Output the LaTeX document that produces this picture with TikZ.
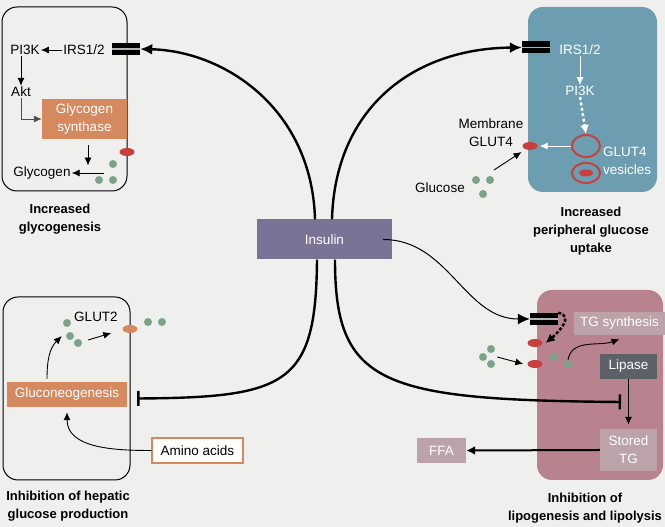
\documentclass[tikz,border=0pt]{standalone}
\usepackage{fontspec}
\setmainfont{Liberation Sans}
\usetikzlibrary{arrows.meta, shapes.geometric}

\definecolor{bg}{HTML}{EFEFEE}
\definecolor{muscle}{HTML}{6C9DB1}
\definecolor{fat}{HTML}{B8828F}
\definecolor{enzyme}{HTML}{D4895F}
\definecolor{glc}{HTML}{7BA387}
\definecolor{glut}{HTML}{C8403E}
\definecolor{insulin}{HTML}{7A7396}
\definecolor{lipid}{HTML}{BBA3A9}
\definecolor{lipase}{HTML}{5C6168}

\tikzset{
	panel/.style = {rounded corners=15pt, line width=1pt},
	receptor/.style = {fill=black, minimum width=28pt, minimum height=12pt, inner sep=0pt,
		path picture={\draw [black!30, line width=1.6pt] (path picture bounding box.west) -- (path picture bounding box.east);}},
	glucose/.style = {circle, fill=glc, minimum size=8pt, inner sep=0pt},
	transporter/.style = {ellipse, fill=glut, minimum width=15pt, minimum height=8pt, inner sep=0pt},
	vesicle/.style = {ellipse, draw=glut, line width=2pt, minimum width=28pt, inner sep=0pt},
	txt/.style = {font=\fontsize{13.5}{18}\selectfont, inner sep=1pt},
	box/.style = {txt, text=white, align=center, inner sep=0pt},
	heading/.style = {font=\bfseries\fontsize{13}{18}\selectfont, align=center},
	link/.style = {line width=0.9pt, -{Latex[length=8pt, width=7pt]}},
	signal/.style = {line width=2.4pt, -{Latex[length=12pt, width=11pt]}},
	block/.style = {line width=2.4pt, -{Bar[width=15pt]}},
}

\begin{document}
\begin{tikzpicture}[x=1pt, y=1pt]
	\fill [bg] (0,0) rectangle (665,527);
	\useasboundingbox (0,0) rectangle (665,527);

	% panels
	\draw [panel] (2,336) rectangle (127,520);
	\fill [panel, muscle] (528,335) rectangle (657,520);
	\draw [panel] (3,47) rectangle (130,230);
	\fill [panel, fat] (537,47) rectangle (663,237);

	\node [box, fill=insulin, minimum width=135pt, minimum height=40pt] (ins) at (324.5,287.5) {Insulin};

	% glycogenesis
	\node [receptor] (rl) at (126,478) {};
	\node [txt] (pl) at (25,477) {PI3K};
	\node [txt] (il) at (84,477) {IRS1/2};
	\node [txt] (akt) at (21,435) {Akt};
	\node [box, fill=enzyme, minimum width=85pt, minimum height=40pt] (gs) at (84.5,408) {Glycogen\\synthase};
	\node [txt] (glyc) at (42,354) {Glycogen};
	\node [transporter] (gl) at (127,375) {};
	\node [glucose] (d1) at (113,363) {};
	\node [glucose] (d2) at (99,347) {};
	\node [glucose] (d3) at (113,347) {};
	\coordinate (gpool) at (104,354);
	\node [heading] (hl) at (60,308) {Increased\\glycogenesis};

	\draw [link] (il.west) -- (pl.east);
	\draw [link] (akt.north |- pl.south) -- (akt.north);
	\draw [link, black!70] (akt.south) |- (gs.west);
	\draw [link] ([xshift=3.5pt, yshift=-6pt]gs.south) -- ([xshift=3.5pt]gs.south |- glyc.north);
	\draw [link] (gpool) -- (glyc.east);

	% glucose uptake
	\node [receptor] (rr) at (536,479.5) {};
	\node [txt, text=white] (ir) at (580,477) {IRS1/2};
	\node [txt, text=white] (pr) at (580,436) {PI3K};
	\node [vesicle, minimum height=22pt] (v1) at (586,381) {};
	\node [vesicle, minimum height=20pt] (v2) at (586,354) {};
	\node [transporter, minimum width=14pt, minimum height=7pt] (v2g) at (v2.center) {};
	\node [txt, text=white, anchor=west, align=left] (vl) at (602,366) {GLUT4\\vesicles};
	\node [transporter] (mg) at (530,381) {};
	\node [txt, align=center] (ml) at (491,394) {Membrane\\GLUT4};
	\node [txt] (gt) at (440,339) {Glucose};
	\node [glucose] (g1) at (476,347) {};
	\node [glucose] (g2) at (490,347) {};
	\node [glucose] (g3) at (483,333) {};
	\node [heading] (hr) at (591,296) {Increased\\peripheral glucose\\uptake};

	\draw [link, white] (ir.south) -- (pr.north);
	\draw [white, line width=2.5pt, dash pattern=on 3pt off 2.5pt, -{Latex[length=9pt, width=9pt]}] (pr.south) -- (v1.north);
	\draw [link, white, shorten >=2pt] (v1.west) -- (mg.east);
	\draw [link] ([shift={(1pt,7pt)}]g2.north east) -- ([shift={(-3pt,-3pt)}]mg.south west);

	% hepatic glucose production
	\node [txt] (gt2) at (96,210) {GLUT2};
	\node [transporter, fill=enzyme] (gll) at (130,198) {};
	\node [glucose] (b1) at (67,204) {};
	\node [glucose] (b2) at (70,191) {};
	\node [glucose] (b3) at (78,184) {};
	\node [glucose] (e1) at (148,205) {};
	\node [glucose] (e2) at (162,205) {};
	\node [box, fill=enzyme, minimum width=120pt, minimum height=25pt] (gneo) at (67,132.5) {Gluconeogenesis};
	\node [txt, draw=enzyme, fill=white, line width=1.5pt, minimum width=91pt, minimum height=25pt] (amino) at (197.5,76.5) {Amino acids};
	\node [heading] (hb) at (68,21) {Inhibition of hepatic\\glucose production};

	\draw [link] ([shift={(-20pt,3pt)}]gneo.north) to [out=90, in=225] ([xshift=-4pt]b2.west);
	\draw [link] ([shift={(6pt,3pt)}]b3.east) -- ([shift={(-11pt,-4pt)}]gll.west);
	\draw [link] (amino.west) to [out=180, in=-90] ([yshift=-5pt]gneo.south);

	% lipogenesis and lipolysis
	\node [receptor] (rf) at (544,208) {};
	\node [transporter] (f1) at (535,184) {};
	\node [transporter] (f2) at (535,163) {};
	\node [glucose] (o1) at (491,178) {};
	\node [glucose] (o2) at (483,170) {};
	\node [glucose] (o3) at (491,163) {};
	\node [glucose] (i1) at (554,170) {};
	\node [glucose] (i2) at (568,163) {};
	\node [box, fill=lipid, minimum width=91pt, minimum height=23pt] (tg) at (619.5,203.5) {TG synthesis};
	\node [box, fill=lipase, minimum width=57pt, minimum height=25pt] (lip) at (628.5,160.5) {Lipase};
	\node [box, fill=lipid, minimum width=57pt, minimum height=42pt] (stg) at (628.5,77) {Stored\\TG};
	\node [box, fill=lipid, minimum width=49pt, minimum height=25pt] (ffa) at (441.5,76.5) {FFA};
	\coordinate (lipstop) at (621,125);
	\node [heading] (hf) at (585,18.5) {Inhibition of\\lipogenesis and lipolysis};

	\draw [line width=2.5pt, dash pattern=on 3pt off 2pt, -{Latex[length=9pt, width=9pt]}] (rf.north east) to [out=-10, in=40, looseness=1.3] ([xshift=3pt]f1.east);
	\draw [link] ([xshift=10pt]o2.east) -- ([xshift=-4pt]f2.west);
	\draw [link] (i2.north) to [out=80, in=200] ([yshift=-4pt]tg.south);
	\draw [link, shorten >=4pt] (lip.south) -- (stg.north);
	\draw [line width=2pt, -{Latex[length=9pt, width=9pt]}] (stg.west) -- (ffa.east);

	% insulin actions
	\draw [signal] ([xshift=-9.5pt]ins.north) .. controls +(-3,110) and +(85,-2) .. (rl.east);
	\draw [signal] ([xshift=7.5pt]ins.north) .. controls +(3,110) and +(-110,-1) .. (rr.west);
	\draw [block] ([xshift=-7.5pt]ins.south) .. controls +(-1,-125) and +(150,1) .. ([shift={(10pt,-4pt)}]gneo.east);
	\draw [block] ([xshift=10.5pt]ins.south) .. controls +(0,-125) and +(-240,2) .. (lipstop);
	\draw [line width=1pt, -{Latex[length=12pt, width=11pt]}] ([xshift=-9pt]ins.east) to [out=0, in=180] (rf.west);
\end{tikzpicture}
\end{document}
